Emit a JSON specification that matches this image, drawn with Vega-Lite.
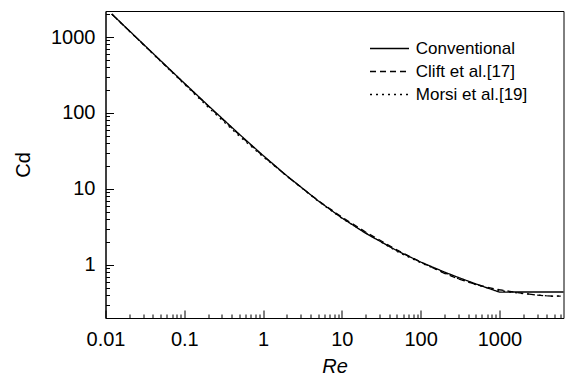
{
  "$schema": "https://vega.github.io/schema/vega-lite/v6.json",
  "width": 458,
  "height": 307,
  "autosize": {"type": "none"},
  "padding": {"left": 105.5, "top": 11, "right": 6.5, "bottom": 58},
  "background": "white",
  "config": {
    "view": {"stroke": "black", "strokeWidth": 1},
    "font": "Liberation Sans"
  },
  "data": {
    "values": [
      {"model": "Conventional", "Re": 0.012, "Cd": 2014.4},
      {"model": "Conventional", "Re": 0.02, "Cd": 1212.2},
      {"model": "Conventional", "Re": 0.05, "Cd": 489.2},
      {"model": "Conventional", "Re": 0.1, "Cd": 247.4},
      {"model": "Conventional", "Re": 0.2, "Cd": 125.96},
      {"model": "Conventional", "Re": 0.5, "Cd": 52.47},
      {"model": "Conventional", "Re": 1, "Cd": 27.6},
      {"model": "Conventional", "Re": 2, "Cd": 14.9},
      {"model": "Conventional", "Re": 5, "Cd": 6.975},
      {"model": "Conventional", "Re": 10, "Cd": 4.151},
      {"model": "Conventional", "Re": 20, "Cd": 2.61},
      {"model": "Conventional", "Re": 50, "Cd": 1.538},
      {"model": "Conventional", "Re": 100, "Cd": 1.0918},
      {"model": "Conventional", "Re": 200, "Cd": 0.8058},
      {"model": "Conventional", "Re": 300, "Cd": 0.684},
      {"model": "Conventional", "Re": 500, "Cd": 0.5627},
      {"model": "Conventional", "Re": 700, "Cd": 0.4975},
      {"model": "Conventional", "Re": 1000, "Cd": 0.4383},
      {"model": "Conventional", "Re": 1500, "Cd": 0.44},
      {"model": "Conventional", "Re": 3000, "Cd": 0.44},
      {"model": "Conventional", "Re": 6500, "Cd": 0.44},
      {"model": "Clift et al.[17]", "Re": 0.012, "Cd": 2004.6},
      {"model": "Clift et al.[17]", "Re": 0.02, "Cd": 1204.6},
      {"model": "Clift et al.[17]", "Re": 0.05, "Cd": 484.45},
      {"model": "Clift et al.[17]", "Re": 0.1, "Cd": 244.26},
      {"model": "Clift et al.[17]", "Re": 0.2, "Cd": 123.99},
      {"model": "Clift et al.[17]", "Re": 0.5, "Cd": 51.54},
      {"model": "Clift et al.[17]", "Re": 1, "Cd": 27.156},
      {"model": "Clift et al.[17]", "Re": 2, "Cd": 14.757},
      {"model": "Clift et al.[17]", "Re": 5, "Cd": 7.033},
      {"model": "Clift et al.[17]", "Re": 10, "Cd": 4.258},
      {"model": "Clift et al.[17]", "Re": 20, "Cd": 2.7146},
      {"model": "Clift et al.[17]", "Re": 50, "Cd": 1.5742},
      {"model": "Clift et al.[17]", "Re": 100, "Cd": 1.087},
      {"model": "Clift et al.[17]", "Re": 200, "Cd": 0.7755},
      {"model": "Clift et al.[17]", "Re": 300, "Cd": 0.6529},
      {"model": "Clift et al.[17]", "Re": 500, "Cd": 0.5548},
      {"model": "Clift et al.[17]", "Re": 700, "Cd": 0.5083},
      {"model": "Clift et al.[17]", "Re": 1000, "Cd": 0.471},
      {"model": "Clift et al.[17]", "Re": 1500, "Cd": 0.441},
      {"model": "Clift et al.[17]", "Re": 2000, "Cd": 0.4211},
      {"model": "Clift et al.[17]", "Re": 3000, "Cd": 0.3997},
      {"model": "Clift et al.[17]", "Re": 4000, "Cd": 0.3904},
      {"model": "Clift et al.[17]", "Re": 5000, "Cd": 0.3873},
      {"model": "Clift et al.[17]", "Re": 6000, "Cd": 0.3877},
      {"model": "Morsi et al.[19]", "Re": 0.012, "Cd": 2000},
      {"model": "Morsi et al.[19]", "Re": 0.02, "Cd": 1200},
      {"model": "Morsi et al.[19]", "Re": 0.05, "Cd": 480},
      {"model": "Morsi et al.[19]", "Re": 0.1, "Cd": 240},
      {"model": "Morsi et al.[19]", "Re": 0.2, "Cd": 119.6},
      {"model": "Morsi et al.[19]", "Re": 0.5, "Cd": 49.51},
      {"model": "Morsi et al.[19]", "Re": 1, "Cd": 26.51},
      {"model": "Morsi et al.[19]", "Re": 2, "Cd": 14.833},
      {"model": "Morsi et al.[19]", "Re": 5, "Cd": 6.9},
      {"model": "Morsi et al.[19]", "Re": 10, "Cd": 4.1},
      {"model": "Morsi et al.[19]", "Re": 20, "Cd": 2.65},
      {"model": "Morsi et al.[19]", "Re": 50, "Cd": 1.5},
      {"model": "Morsi et al.[19]", "Re": 100, "Cd": 1.07},
      {"model": "Morsi et al.[19]", "Re": 200, "Cd": 0.7866},
      {"model": "Morsi et al.[19]", "Re": 300, "Cd": 0.6613},
      {"model": "Morsi et al.[19]", "Re": 500, "Cd": 0.55},
      {"model": "Morsi et al.[19]", "Re": 700, "Cd": 0.4992},
      {"model": "Morsi et al.[19]", "Re": 1000, "Cd": 0.46},
      {"model": "Morsi et al.[19]", "Re": 1500, "Cd": 0.435},
      {"model": "Morsi et al.[19]", "Re": 2000, "Cd": 0.4194},
      {"model": "Morsi et al.[19]", "Re": 3000, "Cd": 0.4013},
      {"model": "Morsi et al.[19]", "Re": 4000, "Cd": 0.3912},
      {"model": "Morsi et al.[19]", "Re": 5000, "Cd": 0.3848},
      {"model": "Morsi et al.[19]", "Re": 6000, "Cd": 0.3943}
    ]
  },
  "mark": {"type": "line", "color": "black", "strokeWidth": 1.3},
  "encoding": {
    "x": {
      "field": "Re",
      "type": "quantitative",
      "scale": {"type": "log", "domain": [0.01, 6500], "nice": false},
      "axis": {
        "title": "Re",
        "titleFontStyle": "italic",
        "titleFontWeight": "normal",
        "titleFontSize": 20,
        "titleColor": "black",
        "titlePadding": 3,
        "values": [0.01, 0.02, 0.03, 0.04, 0.05, 0.06, 0.07, 0.08, 0.09, 0.1, 0.2, 0.3, 0.4, 0.5, 0.6, 0.7, 0.8, 0.9, 1, 2, 3, 4, 5, 6, 7, 8, 9, 10, 20, 30, 40, 50, 60, 70, 80, 90, 100, 200, 300, 400, 500, 600, 700, 800, 900, 1000, 2000, 3000, 4000, 5000, 6000],
        "format": "~g",
        "labelExpr": "abs(log(datum.value)/LN10 - round(log(datum.value)/LN10)) < 0.001 ? datum.label : ''",
        "labelFontSize": 20,
        "labelColor": "black",
        "labelFlush": false,
        "labelOverlap": false,
        "labelPadding": 19,
        "tickSize": {"condition": {"test": "abs(log(datum.value)/LN10 - round(log(datum.value)/LN10)) < 0.001", "value": -8}, "value": -4},
        "tickColor": "black",
        "domainColor": "black",
        "grid": false
      }
    },
    "y": {
      "field": "Cd",
      "type": "quantitative",
      "scale": {"type": "log", "domain": [0.2, 2200], "nice": false},
      "axis": {
        "title": "Cd",
        "titleFontWeight": "normal",
        "titleFontSize": 20,
        "titleColor": "black",
        "titlePadding": 17,
        "values": [0.2, 0.3, 0.4, 0.5, 0.6, 0.7, 0.8, 0.9, 1, 2, 3, 4, 5, 6, 7, 8, 9, 10, 20, 30, 40, 50, 60, 70, 80, 90, 100, 200, 300, 400, 500, 600, 700, 800, 900, 1000, 2000],
        "format": "~g",
        "labelExpr": "abs(log(datum.value)/LN10 - round(log(datum.value)/LN10)) < 0.001 ? datum.label : ''",
        "labelFontSize": 20,
        "labelColor": "black",
        "labelFlush": false,
        "labelOverlap": false,
        "labelPadding": 18.5,
        "tickSize": {"condition": {"test": "abs(log(datum.value)/LN10 - round(log(datum.value)/LN10)) < 0.001", "value": -8}, "value": -4},
        "tickColor": "black",
        "domainColor": "black",
        "grid": false
      }
    },
    "strokeDash": {
      "field": "model",
      "type": "nominal",
      "scale": {
        "domain": ["Conventional", "Clift et al.[17]", "Morsi et al.[19]"],
        "range": [[1, 0], [6, 4], [2, 4]]
      },
      "legend": {
        "orient": "none",
        "legendX": 273.5,
        "legendY": 27,
        "title": null,
        "padding": 0,
        "labelFontSize": 17,
        "labelColor": "black",
        "labelOffset": 15.8,
        "symbolType": "M-2,0H2",
        "symbolSize": 380,
        "symbolStrokeColor": "black",
        "symbolStrokeWidth": 1.3,
        "rowPadding": 4
      }
    }
  }
}
